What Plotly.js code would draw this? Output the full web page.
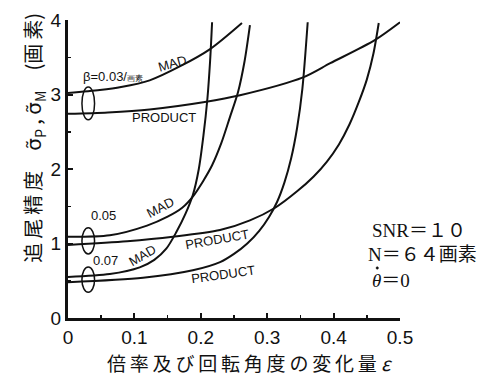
<!DOCTYPE html>
<html>
<head>
<meta charset="utf-8">
<script src="https://cdn.plot.ly/plotly-3.0.1.min.js"></script>
<style>html,body{margin:0;padding:0;background:#fff;}#chart{width:480px;height:377px;}</style>
</head>
<body>
<div id="chart"></div>
<script>
// ---- data ----
const xTickVals = [0, 0.1, 0.2, 0.3, 0.4, 0.5];
const xTickText = ["0", "0.1", "0.2", "0.3", "0.4", "0.5"];
const yTickVals = [0, 1, 2, 3, 4];
const yTickText = ["0", "1", "2", "3", "4"];

// beta = 0.03 /pixel
const eps03MAD = [0, 0.048, 0.08, 0.123, 0.169, 0.214, 0.262];
const val03MAD = [3.02, 3.06, 3.10, 3.19, 3.38, 3.61, 3.96];
const eps03PRD = [0, 0.06, 0.123, 0.206, 0.259, 0.354, 0.395, 0.462, 0.5];
const val03PRD = [2.74, 2.76, 2.80, 2.90, 2.99, 3.23, 3.42, 3.73, 3.97];
// beta = 0.05
const eps05MAD = [0, 0.063, 0.119, 0.15, 0.172, 0.188, 0.203, 0.217, 0.231, 0.244, 0.256, 0.266, 0.274];
const val05MAD = [1.09, 1.11, 1.24, 1.36, 1.48, 1.63, 1.83, 2.05, 2.35, 2.70, 3.03, 3.45, 3.93];
const eps05PRD = [0, 0.089, 0.158, 0.229, 0.274, 0.312, 0.345, 0.37, 0.39, 0.408, 0.424, 0.438, 0.45, 0.46, 0.468];
const val05PRD = [0.98, 1.03, 1.09, 1.18, 1.31, 1.48, 1.70, 1.90, 2.10, 2.33, 2.60, 2.90, 3.20, 3.55, 3.96];
// beta = 0.07
const eps07MAD = [0, 0.063, 0.108, 0.13, 0.148, 0.163, 0.177, 0.188, 0.197, 0.204, 0.210, 0.214, 0.217];
const val07MAD = [0.55, 0.59, 0.68, 0.78, 0.93, 1.15, 1.40, 1.65, 2.00, 2.45, 2.95, 3.45, 3.97];
const eps07PRD = [0, 0.113, 0.188, 0.229, 0.25, 0.27, 0.288, 0.303, 0.315, 0.326, 0.336, 0.345, 0.353, 0.361];
const val07PRD = [0.48, 0.54, 0.64, 0.75, 0.86, 1.00, 1.17, 1.36, 1.56, 1.82, 2.14, 2.55, 3.08, 3.97];

const groupLabels = ["β=0.03/<span style='font-size:8px'>画素</span>", "0.05", "0.07"];
const groupStart = [[3.02, 2.74], [1.09, 0.98], [0.55, 0.48]];
const conditions = ["SNR＝１０", "N＝６４画素", "θ＝0"];

// ---- drawing ----
const INK = "#111";
const TS = "\u2009";
function spaced(s) { return Array.from(s).join(TS); }

function curve(x, y) {
  return {x: x, y: y, type: "scatter", mode: "lines",
    line: {color: INK, width: 2, shape: "spline", smoothing: 0.8},
    hoverinfo: "skip", showlegend: false};
}
const data = [
  curve(eps03MAD, val03MAD), curve(eps03PRD, val03PRD),
  curve(eps05MAD, val05MAD), curve(eps05PRD, val05PRD),
  curve(eps07MAD, val07MAD), curve(eps07PRD, val07PRD)
];

const ellipseHalf = [0.22, 0.175, 0.17];
const shapes = groupStart.map((p, i) => {
  const c = (p[0] + p[1]) / 2;
  return {type: "circle", xref: "x", yref: "y",
    x0: 0.021, x1: 0.040, y0: c - ellipseHalf[i], y1: c + ellipseHalf[i],
    line: {color: INK, width: 1.5}};
});
// dot over theta (time derivative)
shapes.push({type: "circle", xref: "x", yref: "y", x0: 0.4640, x1: 0.4675, y0: 0.655, y1: 0.688,
  fillcolor: INK, line: {color: INK, width: 0.5}});

const LF = {family: "Liberation Sans, Arial, sans-serif", size: 13, color: INK};
function lab(text, x, y, ang) {
  return {text: text, x: x, y: y, xref: "x", yref: "y", showarrow: false,
    textangle: ang || 0, font: LF};
}
const SF = {family: "'Liberation Serif', 'Noto Sans CJK JP', serif", size: 19, color: INK};
const CJK = "'Noto Sans CJK JP', 'DejaVu Sans', sans-serif";
const annotations = [
  lab(groupLabels[0], 0.068, 3.24, 0),
  lab("MAD", 0.157, 3.41, -16),
  lab("PRODUCT", 0.145, 2.69, 0),
  lab(groupLabels[1], 0.054, 1.37, 0),
  lab("MAD", 0.139, 1.48, -28),
  lab(groupLabels[2], 0.057, 0.77, 0),
  lab("MAD", 0.112, 0.84, -30),
  lab("PRODUCT", 0.224, 1.05, -10),
  lab("PRODUCT", 0.233, 0.58, -8),
  {text: conditions[0], x: 0.455, y: 1.17, xref: "x", yref: "y", xanchor: "left", showarrow: false, font: SF},
  {text: conditions[1], x: 0.449, y: 0.85, xref: "x", yref: "y", xanchor: "left", showarrow: false, font: SF},
  {text: "<i>" + conditions[2].slice(0, 1) + "</i>" + conditions[2].slice(1), x: 0.455, y: 0.51, xref: "x", yref: "y", xanchor: "left", showarrow: false, font: SF},
  {text: spaced("追尾精度") + "　σ̃<sub>P</sub> , σ̃<sub>M</sub>　(" + spaced("画素") + ")",
    xref: "paper", yref: "paper",
    x: -0.155, y: 0.605, textangle: -90, showarrow: false,
    font: {family: CJK, size: 20, color: INK}},
  {text: spaced("倍率及び回転角度の変化量") + " <i>ε</i>",
    xref: "paper", yref: "paper", x: 0.548, y: -0.148, yanchor: "middle", xanchor: "center", showarrow: false,
    font: {family: CJK, size: 19, color: INK}}
];

const axisCommon = {
  showline: true, linewidth: 3, linecolor: INK, mirror: false,
  ticks: "inside", ticklen: 5, tickwidth: 2, tickcolor: INK,
  showgrid: false, zeroline: false, fixedrange: true,
  tickfont: {family: "Liberation Sans, Arial, sans-serif", size: 19, color: INK}
};

const layout = {
  width: 480, height: 377,
  margin: {l: 68, r: 80, t: 20, b: 59},
  paper_bgcolor: "#fff", plot_bgcolor: "#fff",
  showlegend: false,
  xaxis: Object.assign({}, axisCommon, {
    range: [0, 0.5], tickmode: "array", tickvals: xTickVals, ticktext: xTickText,
    minor: {dtick: 0.05, ticks: "inside", ticklen: 3, tickwidth: 1.5, tickcolor: INK, showgrid: false}
  }),
  yaxis: Object.assign({}, axisCommon, {
    range: [0, 4], tickmode: "array", tickvals: yTickVals, ticktext: yTickText,
    minor: {dtick: 0.5, ticks: "inside", ticklen: 3, tickwidth: 1.5, tickcolor: INK, showgrid: false}
  }),
  shapes: shapes,
  annotations: annotations
};

Plotly.newPlot("chart", data, layout, {staticPlot: true, displayModeBar: false});
</script>
</body>
</html>
